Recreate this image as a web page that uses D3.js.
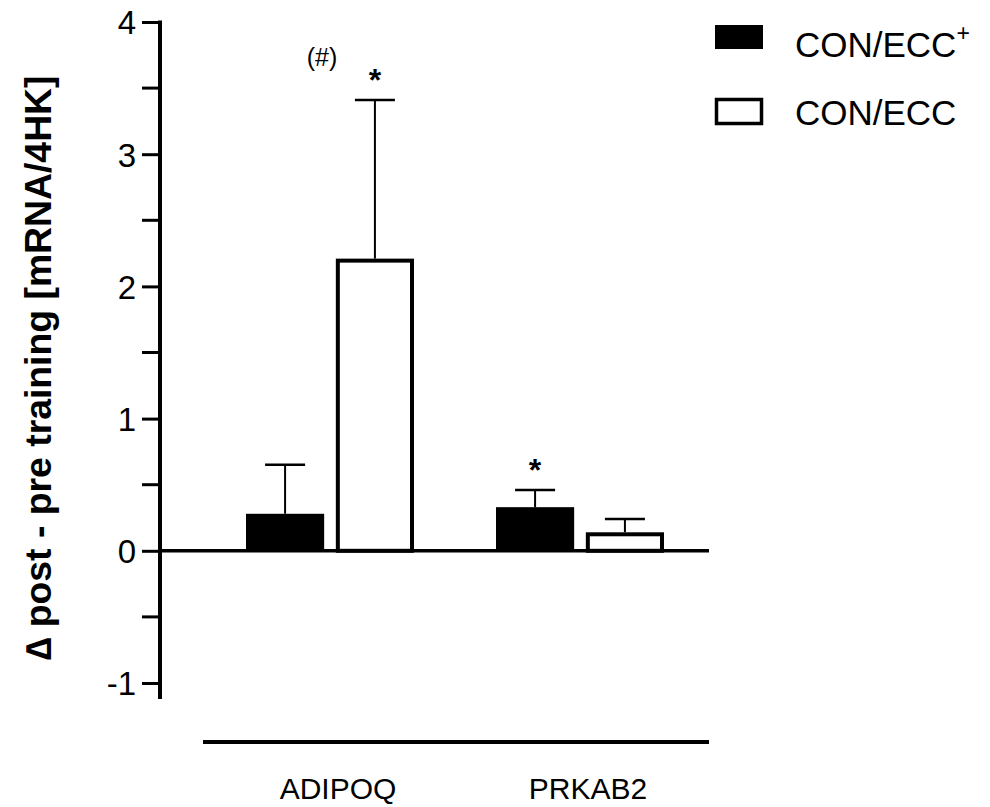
<!DOCTYPE html>
<html>
<head>
<meta charset="utf-8">
<script src="https://cdn.jsdelivr.net/npm/d3@7"></script>
<style>
  body { margin: 0; background: #fff; }
  text { font-family: "Liberation Sans", Arial, sans-serif; }
</style>
</head>
<body>
<div id="chart"></div>
<script>
var categories = ["ADIPOQ", "PRKAB2"];
var seriesNames = ["CON/ECC+", "CON/ECC"];
var meanPlus = [0.28, 0.33];
var errPlus = [0.65, 0.46];
var meanEcc = [2.21, 0.14];
var errEcc = [3.41, 0.24];
var yTicks = [-1, 0, 1, 2, 3, 4];
var marks = [
    {cat: "ADIPOQ", series: "CON/ECC", text: "*", value: 3.41},
    {cat: "PRKAB2", series: "CON/ECC+", text: "*", value: 0.46}
];

var width = 990, height = 807;

var svg = d3.select("#chart")
    .append("svg")
    .attr("width", width)
    .attr("height", height);

var y = d3.scaleLinear()
    .domain([-1, 4])
    .range([683, 22]);

var x = d3.scaleBand()
    .domain(categories)
    .range([205, 705]);

var xs = d3.scaleBand()
    .domain(seriesNames)
    .range([41, 209])
    .paddingInner(0.13);

var rows = [];
categories.forEach(function (c, i) {
    rows.push({cat: c, series: seriesNames[0], mean: meanPlus[i], err: errPlus[i]});
    rows.push({cat: c, series: seriesNames[1], mean: meanEcc[i], err: errEcc[i]});
});

// y axis with minor ticks
var yAxis = svg.append("g")
    .attr("transform", "translate(160,0)");

yAxis.selectAll(".minor")
    .data(d3.range(-0.5, 4, 1))
    .enter().append("line")
    .attr("x1", -18).attr("x2", 0)
    .attr("y1", function (d) { return y(d); })
    .attr("y2", function (d) { return y(d); })
    .style("stroke", "#000").style("stroke-width", 3);

yAxis.call(d3.axisLeft(y).tickValues(yTicks).tickSize(18).tickPadding(6)
    .tickFormat(function (d) { return String(d); }));
yAxis.select(".domain").remove();
yAxis.selectAll(".tick line").style("stroke-width", 3);
yAxis.selectAll(".tick text")
    .style("font-size", "33px")
    .style("font-family", "Liberation Sans, Arial, sans-serif")
    .attr("dy", "0.36em");

yAxis.append("line")
    .attr("x1", 0).attr("x2", 0)
    .attr("y1", y(4) - 1.5).attr("y2", y(-1) + 16)
    .style("stroke", "#000").style("stroke-width", 4);

// bars
var bars = svg.append("g");
var errW = 40;

bars.selectAll(".err")
    .data(rows)
    .enter().append("line")
    .attr("x1", function (d) { return x(d.cat) + xs(d.series) + xs.bandwidth() / 2; })
    .attr("x2", function (d) { return x(d.cat) + xs(d.series) + xs.bandwidth() / 2; })
    .attr("y1", function (d) { return y(d.mean); })
    .attr("y2", function (d) { return y(d.err); })
    .style("stroke", "#000").style("stroke-width", 2);

bars.selectAll(".cap")
    .data(rows)
    .enter().append("line")
    .attr("x1", function (d) { return x(d.cat) + xs(d.series) + xs.bandwidth() / 2 - errW / 2; })
    .attr("x2", function (d) { return x(d.cat) + xs(d.series) + xs.bandwidth() / 2 + errW / 2; })
    .attr("y1", function (d) { return y(d.err); })
    .attr("y2", function (d) { return y(d.err); })
    .style("stroke", "#000").style("stroke-width", 2.5);

bars.selectAll("rect")
    .data(rows)
    .enter().append("rect")
    .attr("x", function (d) { return x(d.cat) + xs(d.series) + (d.series === "CON/ECC" ? 2 : 0); })
    .attr("width", function (d) { return xs.bandwidth() - (d.series === "CON/ECC" ? 4 : 0); })
    .attr("y", function (d) { return y(d.mean) + (d.series === "CON/ECC" ? 2 : 0); })
    .attr("height", function (d) { return y(0) - y(d.mean) - (d.series === "CON/ECC" ? 2 : 0); })
    .style("fill", function (d) { return d.series === "CON/ECC" ? "#fff" : "#000"; })
    .style("stroke", "#000")
    .style("stroke-width", function (d) { return d.series === "CON/ECC" ? 4 : 0; });

// zero line
svg.append("line")
    .attr("x1", 160).attr("x2", 709)
    .attr("y1", y(0)).attr("y2", y(0))
    .style("stroke", "#000").style("stroke-width", 3.5);

// significance marks
svg.selectAll(".star")
    .data(marks)
    .enter().append("text")
    .attr("x", function (d) { return x(d.cat) + xs(d.series) + xs.bandwidth() / 2; })
    .attr("y", function (d) { return y(d.value) - 9; })
    .attr("text-anchor", "middle")
    .style("font-size", "32px")
    .style("font-weight", "bold")
    .text(function (d) { return d.text; });

svg.append("text")
    .attr("x", 322).attr("y", 66)
    .attr("text-anchor", "middle")
    .style("font-size", "25px")
    .text("(#)");

// category axis line and labels
svg.append("line")
    .attr("x1", 203).attr("x2", 709)
    .attr("y1", 742).attr("y2", 742)
    .style("stroke", "#000").style("stroke-width", 4);

svg.selectAll(".cat")
    .data(categories)
    .enter().append("text")
    .attr("x", function (d) { return x(d) + x.bandwidth() / 2 + 8; })
    .attr("y", 799)
    .attr("text-anchor", "middle")
    .style("font-size", "30px")
    .text(function (d) { return d; });

// y label
svg.append("text")
    .attr("transform", "translate(51,368) rotate(-90)")
    .attr("text-anchor", "middle")
    .attr("textLength", 585)
    .attr("lengthAdjust", "spacingAndGlyphs")
    .style("font-size", "36px")
    .style("font-weight", "bold")
    .text("\u2206 post - pre training [mRNA/4HK]");

// legend
var legendTop = [25, 98];
var legendBase = [57, 125];

var legend = svg.selectAll(".legend")
    .data(seriesNames)
    .enter().append("g")
    .attr("transform", function (d, i) { return "translate(715," + legendTop[i] + ")"; });

legend.append("rect")
    .attr("x", function (d, i) { return i ? 1.5 : 0; })
    .attr("y", function (d, i) { return i ? 1.5 : 0; })
    .attr("width", function (d, i) { return i ? 45 : 48; })
    .attr("height", 24)
    .style("fill", function (d, i) { return i ? "#fff" : "#000"; })
    .style("stroke", "#000")
    .style("stroke-width", function (d, i) { return i ? 3.5 : 0; });

legend.append("text")
    .attr("x", 80)
    .attr("y", function (d, i) { return legendBase[i] - legendTop[i]; })
    .style("font-size", "35px")
    .each(function (d) {
        var t = d3.select(this);
        if (d.slice(-1) === "+") {
            t.append("tspan").text(d.slice(0, -1));
            t.append("tspan").attr("dy", "-0.7em").style("font-size", "23px").text("+");
        } else {
            t.text(d);
        }
    });
</script>
</body>
</html>
